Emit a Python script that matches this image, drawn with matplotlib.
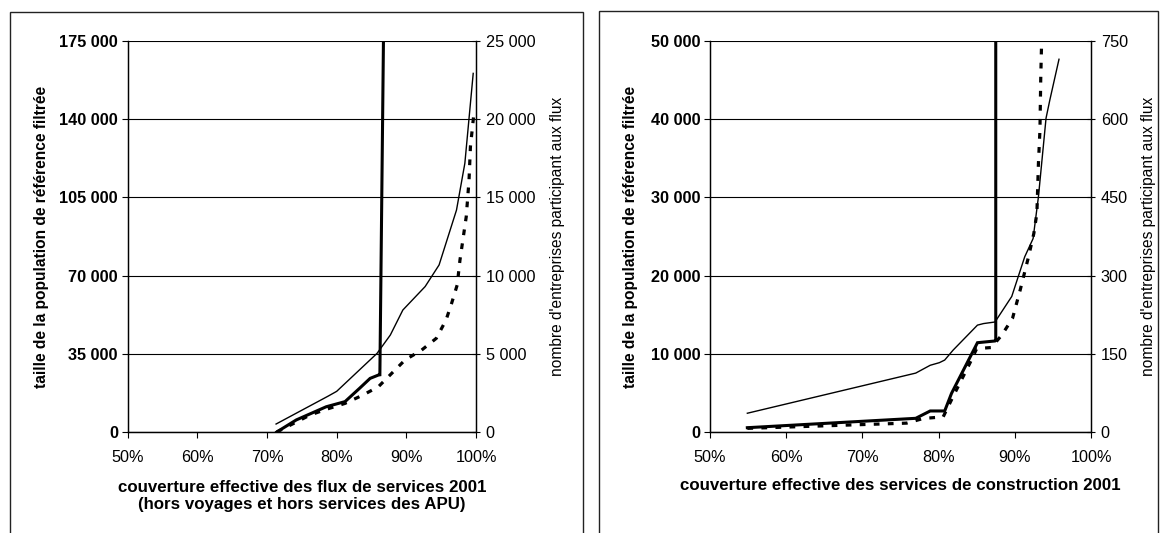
import matplotlib
matplotlib.use("Agg")
import matplotlib.pyplot as plt
from matplotlib.ticker import FuncFormatter, FixedLocator
from matplotlib.patches import Rectangle

plt.rcParams['font.family'] = ['Liberation Sans', 'DejaVu Sans']

# ---------------- data: left chart (services 2001) ----------------
L_thick_x = [71.4, 74.2, 78.5, 81.2, 83.3, 84.8, 86.0, 86.2, 86.8]
L_thick_y = [0, 5400, 11300, 13600, 19600, 24000, 25500, 25600, 200000]   # left axis

L_thin_x = [71.3, 78.8, 80.0, 85.8, 87.7, 89.5, 92.7, 94.7, 97.2, 98.4, 99.6]
L_thin_y = [510, 2300, 2600, 5030, 6200, 7800, 9300, 10680, 14190, 17180, 22930]  # right axis

L_dot_x = [71.4, 76.2, 78.5, 81.2, 83.8, 86.0, 87.9, 89.8, 92.2, 94.3, 95.7, 96.5,
           97.3, 97.7, 98.6, 99.0, 99.2, 99.7]
L_dot_y = [0, 1090, 1450, 1830, 2370, 2900, 3750, 4600, 5240, 5990, 7160, 8230,
           9400, 11000, 13770, 16110, 18240, 20380]  # right axis

# ---------------- data: right chart (construction 2001) ----------------
R_thick_x = [54.9, 77.0, 78.9, 80.8, 81.7, 85.1, 87.4, 87.5, 87.5]
R_thick_y = [550, 1750, 2690, 2690, 4950, 11420, 11640, 11700, 60000]  # left axis

R_thin_x = [54.9, 77.0, 78.9, 80.1, 80.8, 81.9, 85.1, 85.9, 87.4, 89.6, 91.3, 92.4,
            93.1, 94.1, 94.6, 95.8]
R_thin_y = [36, 113, 128, 133, 138, 157, 205, 208, 211, 260, 336, 371,
            451, 602, 637, 715]  # right axis

R_dot_x = [54.9, 75.8, 78.0, 80.6, 81.9, 84.1, 85.0, 86.9, 88.3, 89.7, 90.7, 91.8,
           92.5, 92.9, 93.1, 93.3, 93.4, 93.6]
R_dot_y = [7, 17, 26, 29, 68, 132, 160, 162, 186, 218, 272, 336,
           381, 420, 515, 579, 675, 800]  # right axis

x_ticks = [50, 60, 70, 80, 90, 100]
L_left_ticks = [0, 35000, 70000, 105000, 140000, 175000]
L_right_ticks = [0, 5000, 10000, 15000, 20000, 25000]
R_left_ticks = [0, 10000, 20000, 30000, 40000, 50000]
R_right_ticks = [0, 150, 300, 450, 600, 750]

ylabel_left = "taille de la population de référence filtrée"
ylabel_right = "nombre d'entreprises participant aux flux"
L_xlabel = "couverture effective des flux de services 2001\n(hors voyages et hors services des APU)"
R_xlabel = "couverture effective des services de construction 2001"

W, H = 1163, 533
fig = plt.figure(figsize=(W / 100, H / 100), dpi=100)

# panel frames
for (x0, x1, y0) in [(10, 583, 12), (599, 1158, 11)]:
    fig.patches.append(Rectangle((x0 / W, -0.05), (x1 - x0) / W, 1 - y0 / H + 0.05,
                                 transform=fig.transFigure, fill=False,
                                 edgecolor='#222222', linewidth=1.0))

thou = FuncFormatter(lambda v, p: f"{int(round(v)):,}".replace(",", " "))
pct = FuncFormatter(lambda v, p: f"{int(round(v))}%")

FS = 11.7
LFS = 11.2
XFS = 12.2


def make_panel(rect, left_ticks, right_ticks, thick, thin, dot, xlabel,
               ylx_left, ylx_right, xly):
    ax = fig.add_axes(rect)
    axr = ax.twinx()
    ax.set_xlim(50, 100)
    ax.set_ylim(left_ticks[0], left_ticks[-1])
    axr.set_ylim(right_ticks[0], right_ticks[-1])
    ax.xaxis.set_major_locator(FixedLocator(x_ticks))
    ax.yaxis.set_major_locator(FixedLocator(left_ticks))
    axr.yaxis.set_major_locator(FixedLocator(right_ticks))
    ax.xaxis.set_major_formatter(pct)
    ax.yaxis.set_major_formatter(thou)
    axr.yaxis.set_major_formatter(thou)
    ax.grid(axis='y', color='black', linewidth=0.8)
    ax.set_axisbelow(True)
    for a in (ax, axr):
        a.spines['top'].set_visible(False)
        for s in a.spines.values():
            s.set_linewidth(0.9)
            s.set_color('black')
    ax.tick_params(axis='x', direction='out', length=4, width=0.8, labelsize=FS, pad=9)
    ax.tick_params(axis='y', direction='out', length=4, width=0.8, labelsize=FS, pad=3)
    for t in ax.get_yticklabels():
        t.set_fontweight('bold')
    axr.tick_params(axis='y', direction='inout', length=6, width=0.8, labelsize=FS, pad=4)

    ax.set_ylabel(ylabel_left, fontsize=LFS, fontweight='bold')
    ax.yaxis.set_label_coords(ylx_left, 0.5)
    ax.yaxis.label.set_va('center')
    axr.set_ylabel(ylabel_right, fontsize=LFS)
    axr.yaxis.set_label_coords(ylx_right, 0.5)
    axr.yaxis.label.set_va('center')
    ax.set_xlabel(xlabel, fontsize=XFS, fontweight='bold', linespacing=1.25)
    ax.xaxis.set_label_coords(0.5, xly)
    ax.xaxis.label.set_va('center')

    ax.plot(thick[0], thick[1], color='black', linewidth=2.2, solid_joinstyle='miter')
    axr.plot(thin[0], thin[1], color='black', linewidth=1.0)
    axr.plot(dot[0], dot[1], color='black', linewidth=2.3, linestyle=(0, (1.8, 2.6)),
             dash_capstyle='butt')
    return ax, axr


top_px, bot_px = 41, 432
bottom = 1 - bot_px / H
height = (bot_px - top_px) / H
ah = bot_px - top_px

Lx0, Lx1 = 127.7, 476
Rx0, Rx1 = 710, 1091
make_panel([Lx0 / W, bottom, (Lx1 - Lx0) / W, height], L_left_ticks, L_right_ticks,
           (L_thick_x, L_thick_y), (L_thin_x, L_thin_y), (L_dot_x, L_dot_y), L_xlabel,
           (42 - Lx0) / (Lx1 - Lx0), (557 - Lx0) / (Lx1 - Lx0), (bot_px - 496) / ah)
make_panel([Rx0 / W, bottom, (Rx1 - Rx0) / W, height], R_left_ticks, R_right_ticks,
           (R_thick_x, R_thick_y), (R_thin_x, R_thin_y), (R_dot_x, R_dot_y), R_xlabel,
           (630 - Rx0) / (Rx1 - Rx0), (1148 - Rx0) / (Rx1 - Rx0), (bot_px - 486) / ah)

fig.savefig("out.png", dpi=100)
